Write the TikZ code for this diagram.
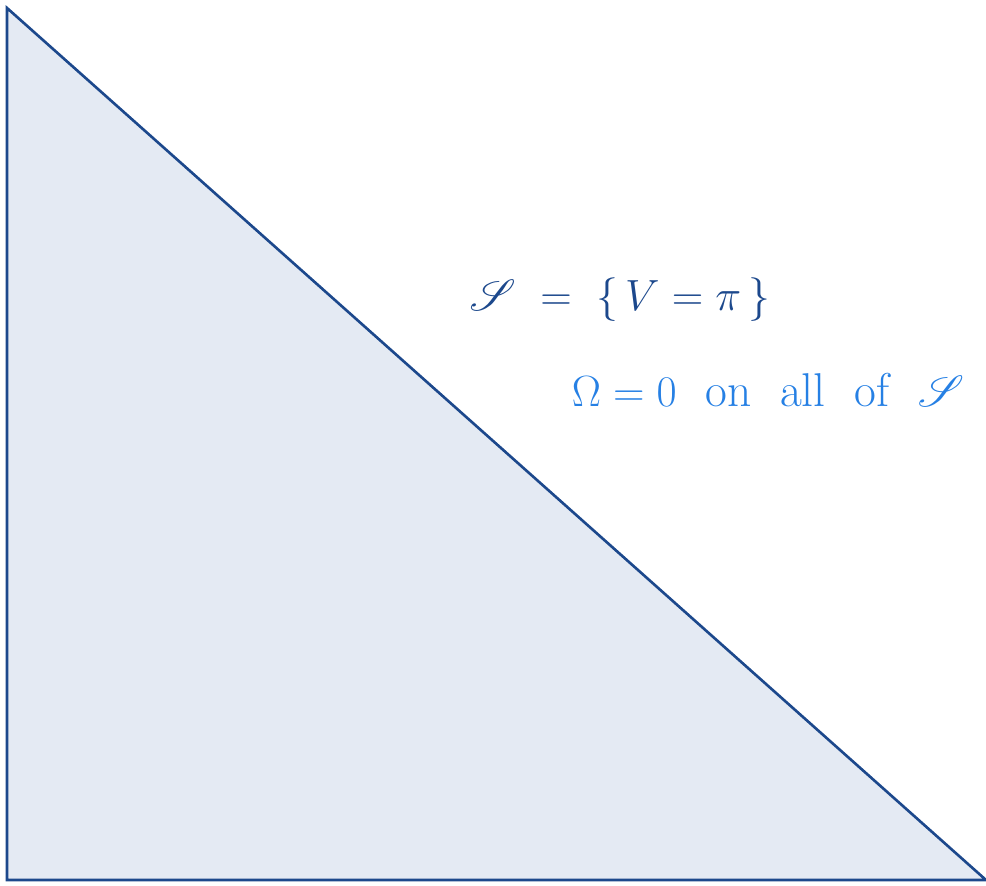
\documentclass[tikz,border=0pt]{standalone}
\usepackage{tikz}
\usepackage{mathrsfs}
\usetikzlibrary{positioning}
\definecolor{inkblue}{RGB}{28,72,140}
\definecolor{notecolor}{RGB}{38,128,228}
\definecolor{regionbg}{RGB}{228,234,243}
\tikzset{
  regionfill/.style={
    draw=inkblue, fill=regionbg, line width=1.5pt,
    line join=miter
  },
  setlabel/.style={
    font=\fontsize{32}{38}\selectfont\color{inkblue},
    inner sep=0pt
  },
  notelabel/.style={
    font=\fontsize{27}{32}\selectfont\color{notecolor},
    inner sep=0pt
  },
}
\begin{document}
\begin{tikzpicture}[x=0.02cm, y=-0.02cm]

  \useasboundingbox (0,0) rectangle (986,885);

  %% Region
  \coordinate (top) at (7,8);
  \coordinate (corner) at (7,880);
  \coordinate (tip) at (986,880);
  \draw[regionfill] (top) -- (corner) -- (tip) -- cycle;

  %% Labels
  \node[setlabel] (S) at (620,300) {$\mathscr{S} \;=\; \{\,V=\pi\,\}$};
  \node[notelabel] (note) at (768,390)
    {$\Omega=0$ \ on \ all \ of \ $\mathscr{S}$};

\end{tikzpicture}
\end{document}
